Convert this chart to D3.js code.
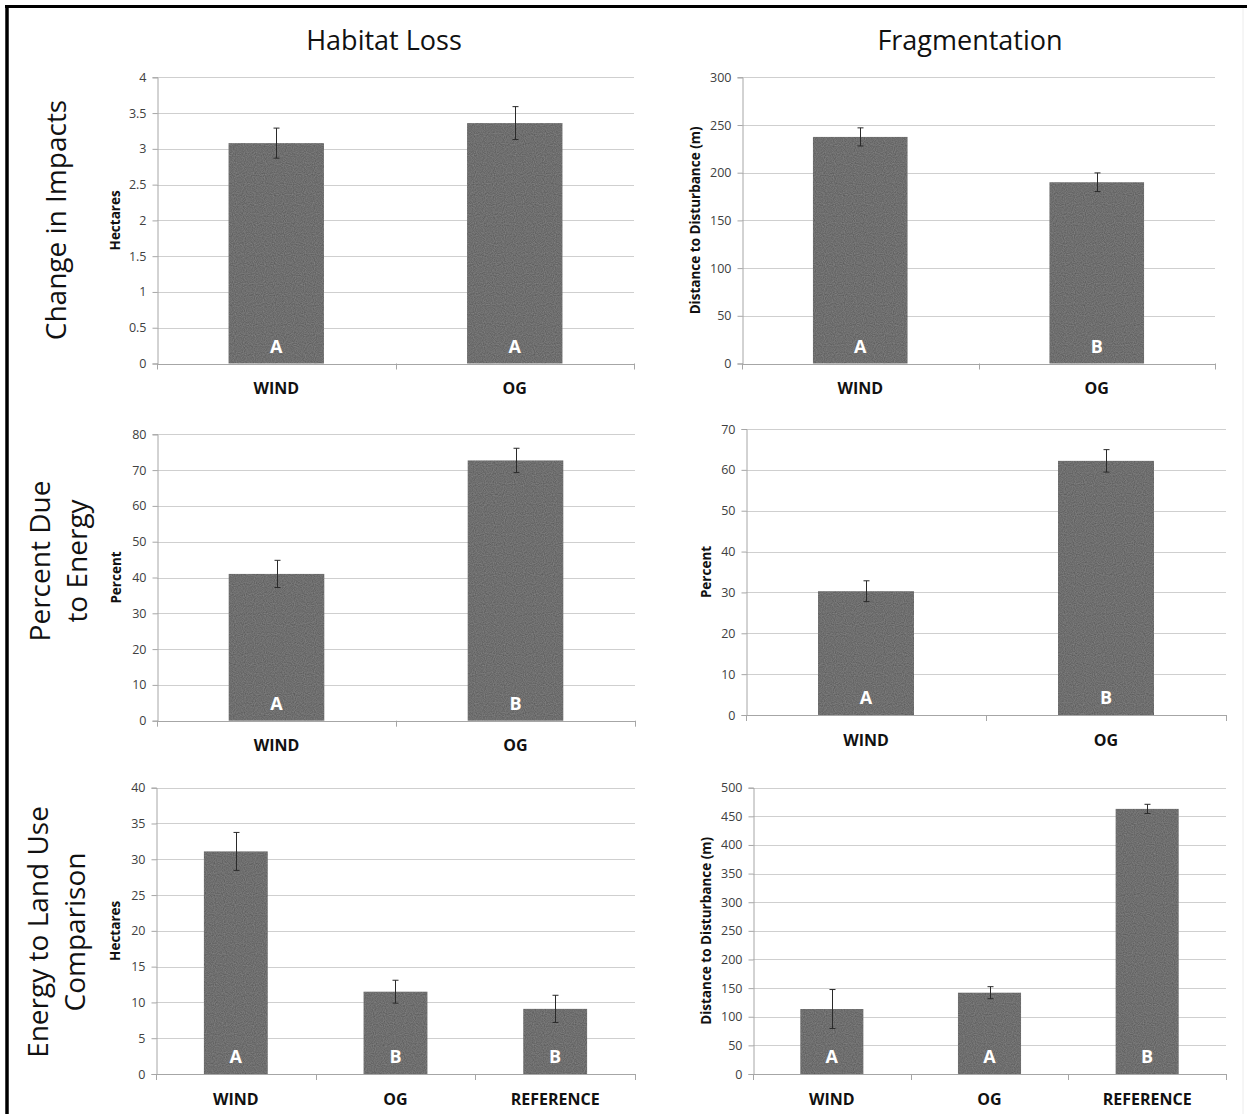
<!DOCTYPE html>
<html><head><meta charset="utf-8">
<script src="https://cdn.jsdelivr.net/npm/d3@7"></script>
<style>
html,body{margin:0;padding:0;background:#fff;}
svg{display:block;font-family:"Open Sans",Lato,sans-serif;}
</style></head>
<body>
<script>
// ---------------- DATA ----------------
const colTitles = ["Habitat Loss", "Fragmentation"];
const rowTitles = [["Change in Impacts"], ["Percent Due", "to Energy"], ["Energy to Land Use", "Comparison"]];

const cats2 = ["WIND", "OG"];
const cats3 = ["WIND", "OG", "REFERENCE"];

const lossImpactVals = [3.08, 3.36];
const lossImpactErr = [0.21, 0.23];
const lossImpactLetters = ["A", "A"];
const lossImpactTicks = [0, 0.5, 1, 1.5, 2, 2.5, 3, 3.5, 4];

const fragImpactVals = [237.5, 190];
const fragImpactErr = [9.5, 9.8];
const fragImpactLetters = ["A", "B"];
const fragImpactTicks = [0, 50, 100, 150, 200, 250, 300];

const lossPctVals = [41.0, 72.7];
const lossPctErr = [3.8, 3.4];
const lossPctLetters = ["A", "B"];
const lossPctTicks = [0, 10, 20, 30, 40, 50, 60, 70, 80];

const fragPctVals = [30.3, 62.2];
const fragPctErr = [2.55, 2.75];
const fragPctLetters = ["A", "B"];
const fragPctTicks = [0, 10, 20, 30, 40, 50, 60, 70];

const lossLandVals = [31.1, 11.5, 9.1];
const lossLandErr = [2.65, 1.6, 1.9];
const lossLandLetters = ["A", "B", "B"];
const lossLandTicks = [0, 5, 10, 15, 20, 25, 30, 35, 40];

const fragLandVals = [113.5, 142, 463];
const fragLandErr = [34, 10.5, 8];
const fragLandLetters = ["A", "A", "B"];
const fragLandTicks = [0, 50, 100, 150, 200, 250, 300, 350, 400, 450, 500];

const yTitles = ["Hectares", "Distance to Disturbance (m)", "Percent", "Percent", "Hectares", "Distance to Disturbance (m)"];

// ---------------- LAYOUT ----------------
const W = 1247, H = 1114;
const svg = d3.select("body").append("svg").attr("width", W).attr("height", H);

// grain texture for bars
const defs = svg.append("defs");
const f = defs.append("filter").attr("id", "grain").attr("x", 0).attr("y", 0).attr("width", 1).attr("height", 1)
  .attr("color-interpolation-filters", "sRGB");
f.append("feTurbulence").attr("type", "fractalNoise").attr("baseFrequency", 0.9).attr("numOctaves", 1).attr("seed", 4).attr("result", "noise");
f.append("feColorMatrix").attr("in", "noise").attr("type", "saturate").attr("values", 0).attr("result", "gray");
const ct = f.append("feComponentTransfer").attr("in", "gray").attr("result", "tone");
["feFuncR", "feFuncG", "feFuncB"].forEach(n => ct.append(n).attr("type", "linear").attr("slope", 0.28).attr("intercept", 0.295));
ct.append("feFuncA").attr("type", "linear").attr("slope", 0).attr("intercept", 1);
f.append("feComposite").attr("in", "tone").attr("in2", "SourceGraphic").attr("operator", "in");

// frame
svg.append("line").attr("x1", 5).attr("x2", W).attr("y1", 6.5).attr("y2", 6.5).attr("stroke", "#000").attr("stroke-width", 3);
svg.append("line").attr("x1", 7).attr("x2", 7).attr("y1", 5).attr("y2", H).attr("stroke", "#000").attr("stroke-width", 3.5);
svg.append("line").attr("x1", 1243).attr("x2", 1243).attr("y1", 8).attr("y2", H).attr("stroke", "#ececec").attr("stroke-width", 1);

const panels = [
  {cats: cats2, vals: lossImpactVals, err: lossImpactErr, letters: lossImpactLetters, ticks: lossImpactTicks, fmt: d3.format("~g"), x0: 157, x1: 634, yT: 77.3, yB: 363.5, yTitleX: 115, yTitle: yTitles[0]},
  {cats: cats2, vals: fragImpactVals, err: fragImpactErr, letters: fragImpactLetters, ticks: fragImpactTicks, fmt: d3.format("d"), x0: 742, x1: 1215, yT: 77.3, yB: 363.5, yTitleX: 695, yTitle: yTitles[1]},
  {cats: cats2, vals: lossPctVals, err: lossPctErr, letters: lossPctLetters, ticks: lossPctTicks, fmt: d3.format("d"), x0: 157, x1: 635, yT: 434.3, yB: 720.7, yTitleX: 116, yTitle: yTitles[2]},
  {cats: cats2, vals: fragPctVals, err: fragPctErr, letters: fragPctLetters, ticks: fragPctTicks, fmt: d3.format("d"), x0: 746, x1: 1226, yT: 429, yB: 715, yTitleX: 706, yTitle: yTitles[3]},
  {cats: cats3, vals: lossLandVals, err: lossLandErr, letters: lossLandLetters, ticks: lossLandTicks, fmt: d3.format("d"), x0: 156, x1: 635, yT: 787.7, yB: 1074, yTitleX: 115, yTitle: yTitles[4]},
  {cats: cats3, vals: fragLandVals, err: fragLandErr, letters: fragLandLetters, ticks: fragLandTicks, fmt: d3.format("d"), x0: 753, x1: 1226, yT: 787.7, yB: 1074, yTitleX: 706, yTitle: yTitles[5]}
];

const barColor = "#6e6e6e";
const gridColor = "#cfcfcf";
const axisColor = "#a6a6a6";

panels.forEach(p => {
  const g = svg.append("g");
  const x = d3.scaleBand().domain(p.cats).range([p.x0, p.x1]).padding(0);
  const y = d3.scaleLinear().domain([p.ticks[0], p.ticks[p.ticks.length - 1]]).range([p.yB, p.yT]);
  const bw = x.bandwidth() * 0.4;

  // gridlines
  g.append("g").selectAll("line").data(p.ticks.slice(1)).join("line")
    .attr("x1", p.x0).attr("x2", p.x1)
    .attr("y1", d => Math.round(y(d)) + 0.5).attr("y2", d => Math.round(y(d)) + 0.5)
    .attr("stroke", gridColor).attr("stroke-width", 1);

  // y axis
  const ya = g.append("g").attr("transform", `translate(${Math.round(p.x0) + 0.5},0)`)
    .call(d3.axisLeft(y).tickValues(p.ticks).tickFormat(p.fmt).tickSize(5).tickPadding(6));
  ya.select(".domain").attr("stroke", axisColor);
  ya.selectAll(".tick line").attr("stroke", axisColor);
  ya.selectAll(".tick text").attr("fill", "#404040").attr("font-size", 12.5)
    .attr("font-family", "'Open Sans',Lato,sans-serif");

  // x axis
  const xa = g.append("g");
  xa.append("line").attr("x1", p.x0).attr("x2", p.x1)
    .attr("y1", Math.round(p.yB) + 0.5).attr("y2", Math.round(p.yB) + 0.5).attr("stroke", axisColor);
  const bounds = p.cats.map(c => x(c)).concat([x(p.cats[p.cats.length - 1]) + x.bandwidth()]);
  xa.selectAll("line.tk").data(bounds).join("line").attr("class", "tk")
    .attr("x1", d => Math.round(d) + 0.5).attr("x2", d => Math.round(d) + 0.5)
    .attr("y1", p.yB).attr("y2", p.yB + 6).attr("stroke", axisColor);

  // bars
  g.append("g").selectAll("rect").data(p.vals).join("rect")
    .attr("x", (d, i) => x(p.cats[i]) + x.bandwidth() / 2 - bw / 2)
    .attr("width", bw)
    .attr("y", d => y(d)).attr("height", d => y(0) - y(d))
    .attr("fill", barColor)
    .attr("filter", "url(#grain)");

  // error bars
  const eg = g.append("g").attr("stroke", "#2a2a2a").attr("stroke-width", 1);
  p.vals.forEach((v, i) => {
    const cx = Math.round(x(p.cats[i]) + x.bandwidth() / 2) + 0.5;
    const t = y(v + p.err[i]), b = y(v - p.err[i]);
    eg.append("line").attr("x1", cx).attr("x2", cx).attr("y1", t).attr("y2", b);
    eg.append("line").attr("x1", cx - 3).attr("x2", cx + 3).attr("y1", t).attr("y2", t);
    eg.append("line").attr("x1", cx - 3).attr("x2", cx + 3).attr("y1", b).attr("y2", b);
  });

  // significance letters
  g.append("g").selectAll("text").data(p.letters).join("text")
    .attr("x", (d, i) => x(p.cats[i]) + x.bandwidth() / 2)
    .attr("y", p.yB - 11)
    .attr("text-anchor", "middle").attr("fill", "#fff")
    .attr("font-weight", "bold").attr("font-size", 18)
    .text(d => d);

  // category labels
  g.append("g").selectAll("text").data(p.cats).join("text")
    .attr("x", d => x(d) + x.bandwidth() / 2)
    .attr("y", p.yB + 30.5)
    .attr("text-anchor", "middle").attr("fill", "#111")
    .attr("font-weight", "bold").attr("font-size", 16)
    .text(d => d);

  // y title
  g.append("text")
    .attr("transform", `translate(${p.yTitleX},${(p.yT + p.yB) / 2}) rotate(-90)`)
    .attr("dy", "0.35em").attr("text-anchor", "middle")
    .attr("font-weight", "bold").attr("font-size", 13.5).attr("fill", "#111")
    .text(p.yTitle);
});

// column titles
const colX = [384, 970];
svg.append("g").selectAll("text").data(colTitles).join("text")
  .attr("x", (d, i) => colX[i]).attr("y", 50)
  .attr("text-anchor", "middle").attr("font-size", 27).attr("fill", "#111")
  .text(d => d);

// row titles
const rowY = [220, 561, 932];
const rowBase = [[66], [50, 87], [48, 85]];
rowTitles.forEach((lines, r) => {
  lines.forEach((t, k) => {
    svg.append("text")
      .attr("transform", `translate(${rowBase[r][k]},${rowY[r]}) rotate(-90)`)
      .attr("text-anchor", "middle").attr("font-size", 28).attr("fill", "#111")
      .text(t);
  });
});
</script>
</body></html>
